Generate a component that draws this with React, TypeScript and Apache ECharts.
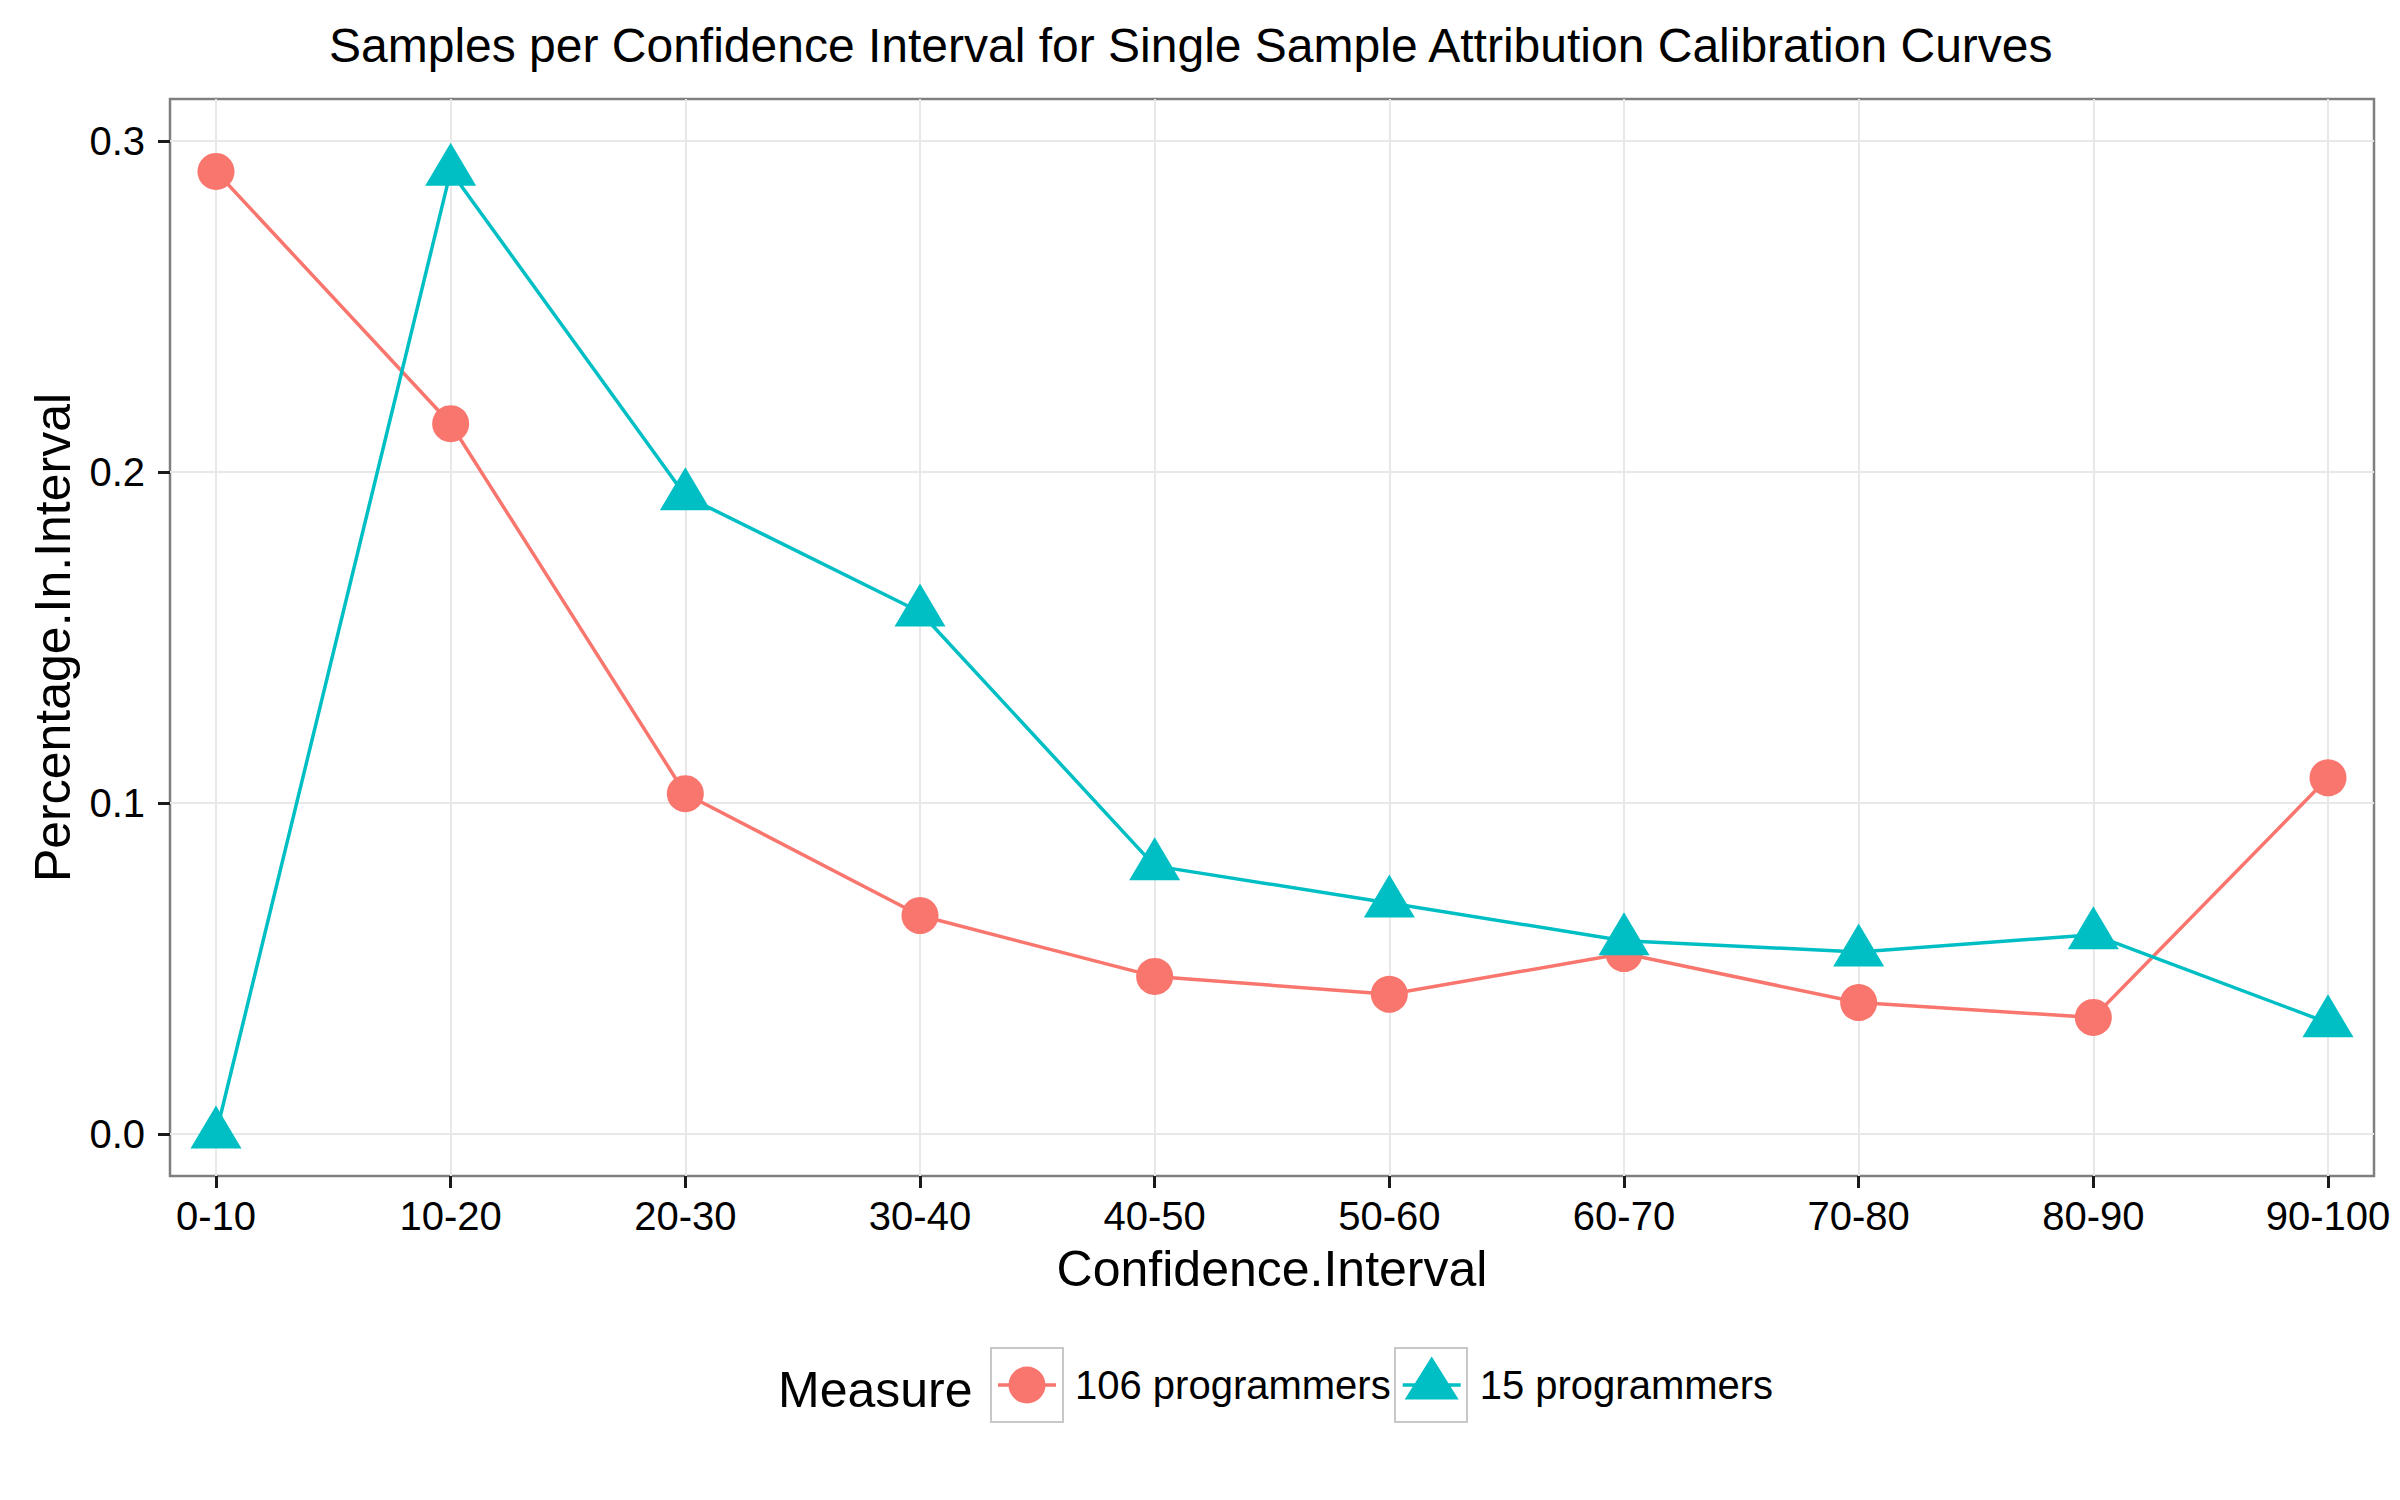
import React, { useEffect, useRef } from "react";
import * as echarts from "echarts";

const categories = ["0-10", "10-20", "20-30", "30-40", "40-50", "50-60", "60-70", "70-80", "80-90", "90-100"];
const seriesNames = ["106 programmers", "15 programmers"];
const programmers106 = [0.2908, 0.2146, 0.1028, 0.066, 0.0476, 0.0422, 0.0545, 0.0397, 0.0352, 0.1076];
const programmers15 = [0.0, 0.2909, 0.1928, 0.1577, 0.081, 0.0698, 0.0584, 0.055, 0.0602, 0.0336];
const yTicks = [0, 0.1, 0.2, 0.3];
const xTickIdx = categories.map((_, i) => i);

const FONT = "'Liberation Sans', Arial, Helvetica, sans-serif";
const RED = "#F8766D";
const CYAN = "#00BFC4";

// legend key icons (58 x 58 box, key line through the middle)
const CIRCLE_ICON =
  "path://M0,0 L0.01,0 M0,58 L0.01,58 M0,27.25 L58,27.25 L58,30.75 L0,30.75 Z " +
  "M10.5,29 A18.5,18.5 0 1,1 47.5,29 A18.5,18.5 0 1,1 10.5,29 Z";
const TRI_ICON =
  "path://M0,0 L0.01,0 M0,58 L0.01,58 M0,27.25 L58,27.25 L58,30.75 L0,30.75 Z " +
  "M29,0.5 L56,43.5 L2,43.5 Z";

export default function App() {
  const ref = useRef<HTMLDivElement>(null);
  useEffect(() => {
    if (!ref.current) return;
    const chart = echarts.init(ref.current, null, { renderer: "svg" });
    const option: any = {
      animation: false,
      backgroundColor: "#FFFFFF",
      textStyle: { fontFamily: FONT, color: "#000" },
      title: {
        text: "Samples per Confidence Interval for Single Sample Attribution Calibration Curves",
        left: 329,
        top: 21,
        padding: 0,
        textStyle: { fontFamily: FONT, fontSize: 48, fontWeight: "normal", color: "#000" },
      },
      grid: {
        left: 170,
        top: 99,
        width: 2204,
        height: 1077,
        show: true,
        borderColor: "#7F7F7F",
        borderWidth: 2.5,
        backgroundColor: "transparent",
        containLabel: false,
      },
      xAxis: {
        type: "value",
        min: -0.196,
        max: 9.196,
        name: "Confidence.Interval",
        nameLocation: "middle",
        nameGap: 68,
        nameTextStyle: { fontFamily: FONT, fontSize: 50, color: "#000" },
        axisLine: { show: false, onZero: false },
        axisTick: { show: true, inside: false, length: 12, customValues: xTickIdx, lineStyle: { color: "#1a1a1a", width: 3 } },
        axisLabel: {
          customValues: xTickIdx,
          margin: 20,
          fontFamily: FONT,
          fontSize: 40,
          color: "#000",
          formatter: (v: number) => categories[Math.round(v)] ?? "",
        },
        splitLine: { show: true, lineStyle: { color: "#E8E8E8", width: 2 } },
      },
      yAxis: {
        type: "value",
        min: -0.0127,
        max: 0.3127,
        name: "Percentage.In.Interval",
        nameLocation: "middle",
        nameGap: 90,
        nameRotate: 90,
        nameTextStyle: { fontFamily: FONT, fontSize: 50, color: "#000" },
        axisLine: { show: false, onZero: false },
        axisTick: { show: true, inside: false, length: 12, customValues: yTicks, lineStyle: { color: "#1a1a1a", width: 3 } },
        axisLabel: {
          customValues: yTicks,
          margin: 25,
          fontFamily: FONT,
          fontSize: 40,
          color: "#000",
          formatter: (v: number) => v.toFixed(1),
        },
        splitLine: { show: true, lineStyle: { color: "#E8E8E8", width: 2 } },
      },
      legend: {
        left: 998,
        top: 1356,
        padding: 0,
        itemWidth: 58,
        itemHeight: 58,
        itemGap: 12,
        itemStyle: { borderWidth: 0 },
        textStyle: { fontFamily: FONT, fontSize: 40, color: "#000", padding: [0, 0, 0, 14] },
        data: [
          { name: seriesNames[0], icon: CIRCLE_ICON },
          { name: seriesNames[1], icon: TRI_ICON },
        ],
      },
      graphic: [
        {
          type: "text",
          left: 778,
          top: 1365,
          z: 1,
          style: { text: "Measure", fontFamily: FONT, fontSize: 50, fill: "#000" },
        },
        {
          type: "rect",
          shape: { x: 991, y: 1348, width: 72, height: 74 },
          z: 0,
          style: { fill: "#FFFFFF", stroke: "#C8C8C8", lineWidth: 2 },
        },
        {
          type: "rect",
          shape: { x: 1395, y: 1348, width: 72, height: 74 },
          z: 0,
          style: { fill: "#FFFFFF", stroke: "#C8C8C8", lineWidth: 2 },
        },
      ],
      series: [
        {
          name: seriesNames[0],
          type: "line",
          data: programmers106.map((v, i) => [i, v]),
          symbol: "circle",
          symbolSize: 37,
          color: RED,
          lineStyle: { color: RED, width: 3.5 },
          itemStyle: { color: RED, borderWidth: 0 },
          z: 3,
        },
        {
          name: seriesNames[1],
          type: "line",
          data: programmers15.map((v, i) => [i, v]),
          symbol: "triangle",
          symbolSize: [51, 43],
          symbolOffset: [0, -7],
          color: CYAN,
          lineStyle: { color: CYAN, width: 3.5 },
          itemStyle: { color: CYAN, borderWidth: 0 },
          z: 4,
        },
      ],
    };
    chart.setOption(option);
    return () => chart.dispose();
  }, []);
  return (
    <div
      ref={ref}
      style={{ position: "fixed", left: 0, top: 0, width: 2400, height: 1500, background: "#fff" }}
    />
  );
}
